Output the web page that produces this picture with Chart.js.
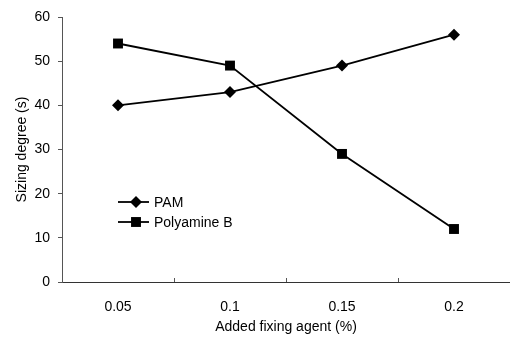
<!DOCTYPE html>
<html lang="en">
<head>
<meta charset="UTF-8">
<title>Sizing degree</title>
<script src="https://cdn.jsdelivr.net/npm/chart.js"></script>
<style>
  html, body { margin: 0; padding: 0; background: #fff; }
  #wrap { width: 510px; height: 337px; position: relative; }
</style>
</head>
<body>
<div id="wrap"><canvas id="grafico"></canvas></div>
<script>
    // fixing agent dosage (%) and sizing degree (s)
    const agente = ["0.05", "0.1", "0.15", "0.2"];
    const pam = [40, 43, 49, 56];
    const poliamina = [54, 49, 29, 12];
    const ticksY = [0, 10, 20, 30, 40, 50, 60];

    const fonte = "'Liberation Sans', Arial, sans-serif";

    // legend inside the plot, left side
    const legendaInterna = {
        id: 'legendaInterna',
        afterDraw(chart) {
            const ctx = chart.ctx;
            const itens = [
                { texto: "PAM", estilo: "rectRot", raio: 6 },
                { texto: "Polyamine B", estilo: "rect", raio: 7 }
            ];
            ctx.save();
            itens.forEach(function (it, i) {
                const y = 202 + i * 20;
                ctx.strokeStyle = "#000";
                ctx.lineWidth = 1.8;
                ctx.beginPath();
                ctx.moveTo(118, y);
                ctx.lineTo(149, y);
                ctx.stroke();
                ctx.fillStyle = "#000";
                Chart.helpers.drawPoint(ctx, { pointStyle: it.estilo, radius: it.raio, borderWidth: 0 }, 136, y);
                ctx.font = "14px " + fonte;
                ctx.textBaseline = "middle";
                ctx.fillText(it.texto, 154, y + 1);
            });

            // small upward ticks between categories on the x axis
            const x = chart.scales.x;
            const fundo = chart.chartArea.bottom;
            ctx.strokeStyle = "#555";
            ctx.lineWidth = 1;
            for (let i = 1; i < agente.length; i++) {
                const px = Math.round((x.getPixelForValue(i - 1) + x.getPixelForValue(i)) / 2) + 0.5;
                ctx.beginPath();
                ctx.moveTo(px, fundo);
                ctx.lineTo(px, fundo - 4);
                ctx.stroke();
            }
            ctx.restore();
        }
    };

    new Chart(document.getElementById("grafico"), {
        type: "line",
        data: {
            labels: agente,
            datasets: [
                {
                    label: "PAM",
                    data: pam,
                    borderColor: "#000",
                    backgroundColor: "#000",
                    borderWidth: 1.8,
                    pointStyle: "rectRot",
                    pointRadius: 6,
                    pointBorderWidth: 0,
                    tension: 0
                },
                {
                    label: "Polyamine B",
                    data: poliamina,
                    borderColor: "#000",
                    backgroundColor: "#000",
                    borderWidth: 1.8,
                    pointStyle: "rect",
                    pointRadius: 7,
                    pointBorderWidth: 0,
                    tension: 0
                }
            ]
        },
        options: {
            responsive: true,
            maintainAspectRatio: false,
            animation: false,
            layout: { autoPadding: false, padding: { top: 17, right: 0, left: 0, bottom: 1 } },
            plugins: {
                legend: { display: false },
                tooltip: { enabled: false }
            },
            scales: {
                x: {
                    offset: true,
                    grid: { display: false, drawTicks: false },
                    border: { color: "#333", width: 1 },
                    ticks: {
                        color: "#000",
                        font: { family: fonte, size: 14 },
                        padding: 17
                    },
                    title: {
                        display: true,
                        text: "Added fixing agent (%)",
                        color: "#000",
                        font: { family: fonte, size: 14 },
                        padding: { top: 2, bottom: 0 }
                    },
                    afterFit(scale) {
                        scale.height = 54;
                        scale.paddingLeft = 0;
                        scale.paddingRight = 0;
                    }
                },
                y: {
                    min: 0,
                    max: 60,
                    afterBuildTicks(scale) {
                        scale.ticks = ticksY.map(function (v) { return { value: v }; });
                    },
                    grid: { drawOnChartArea: false, drawTicks: true, tickLength: 4, color: "#555" },
                    border: { color: "#555", width: 1 },
                    ticks: {
                        color: "#000",
                        font: { family: fonte, size: 14 },
                        padding: 8
                    },
                    title: {
                        display: true,
                        text: "Sizing degree (s)",
                        color: "#000",
                        font: { family: fonte, size: 14 },
                        padding: { top: 14, bottom: 6 }
                    },
                    afterFit(scale) {
                        scale.width = 62;
                        scale.paddingTop = 0;
                        scale.paddingBottom = 0;
                    }
                }
            }
        },
        plugins: [legendaInterna]
    });
</script>
</body>
</html>
